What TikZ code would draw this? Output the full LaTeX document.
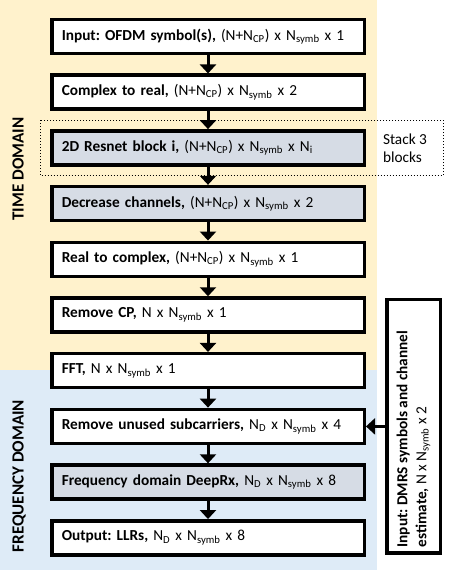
\documentclass[tikz,border=0pt]{standalone}
\usepackage{fontspec}
\setmainfont{Carlito}
\usetikzlibrary{positioning, arrows.meta, calc}
\definecolor{timebg}{HTML}{FFF2CC}
\definecolor{freqbg}{HTML}{DEEBF7}
\definecolor{netfill}{HTML}{D6DCE5}
\newcommand{\Nsym}{N\textsubscript{symb}}
\newcommand{\NwCP}{(N+N\textsubscript{CP})}
\newcommand{\ND}{N\textsubscript{D}}
\frenchspacing

\begin{document}
\begin{tikzpicture}[x=1pt,y=-1pt,
    >={Triangle[width=16pt,length=9pt]},
    node distance=18.2pt,
    layer/.style={draw, line width=3.5pt, fill=white, minimum height=34pt,
      text width=292.5pt, inner xsep=10pt, align=left,
      font=\fontsize{15.3}{17}\selectfont},
    netlayer/.style={layer, fill=netfill},
    flow/.style={->, line width=3pt},
    domainlabel/.style={rotate=90, font=\fontsize{17}{19}\selectfont\bfseries},
  ]
  \useasboundingbox (0,0) rectangle (449,574);
  % domain backgrounds
  \fill[timebg] (0,0) rectangle (377,370);
  \fill[freqbg] (0,370) rectangle (377,570);
  \node[domainlabel] (timelbl) at (18,169) {TIME DOMAIN};
  \node[domainlabel] (freqlbl) at (19,476) {FREQUENCY DOMAIN};

  \node[layer] (input) at (208,36.5) {\textbf{Input: OFDM symbol(s),} \NwCP{} x \Nsym{} x 1};
  \node[layer, below=of input] (toreal) {\textbf{Complex to real,} \NwCP{} x \Nsym{} x 2};
  \node[netlayer, below=of toreal] (resnet) {\textbf{2D Resnet block i,} \NwCP{} x \Nsym{} x N\textsubscript{i}};
  \node[netlayer, below=of resnet] (decrease) {\textbf{Decrease channels,} \NwCP{} x \Nsym{} x 2};
  \node[layer, below=of decrease] (tocomplex) {\textbf{Real to complex,} \NwCP{} x \Nsym{} x 1};
  \node[layer, below=of tocomplex] (removecp) {\textbf{Remove CP,} N x \Nsym{} x 1};
  \node[layer, below=of removecp] (fft) {\textbf{FFT,} N x \Nsym{} x 1};
  \node[layer, below=of fft] (unused) {\textbf{Remove unused subcarriers,} \ND{} x \Nsym{} x 4};
  \node[netlayer, below=of unused] (deeprx) {\textbf{Frequency domain DeepRx,} \ND{} x \Nsym{} x 8};
  \node[layer, below=of deeprx] (output) {\textbf{Output: LLRs,} \ND{} x \Nsym{} x 8};

  % side input
  \node[draw, line width=3.5pt, fill=white, minimum width=53.5pt, minimum height=253.5pt,
    inner sep=0pt, right=19pt of unused, font=\fontsize{15.3}{19}\selectfont] (dmrs)
    {\rotatebox{90}{\parbox{242pt}{\raggedright\textbf{Input: DMRS symbols and channel}\\
      \textbf{estimate,} N x \Nsym{} x 2}}};

  % stacked resnet blocks
  \node[align=left, font=\fontsize{15.3}{18}\selectfont] (stacktxt) at (405,148) {Stack 3\\blocks};
  \draw[dotted, line width=1pt] ([xshift=-10pt,yshift=9pt]resnet.north west)
    rectangle ([xshift=77pt,yshift=-9pt]resnet.south east);

  \path[flow]
    (input) edge (toreal)
    (toreal) edge (resnet)
    (resnet) edge (decrease)
    (decrease) edge (tocomplex)
    (tocomplex) edge (removecp)
    (removecp) edge (fft)
    (fft) edge (unused)
    (unused) edge (deeprx)
    (deeprx) edge (output)
    (dmrs) edge (unused);
\end{tikzpicture}
\end{document}
